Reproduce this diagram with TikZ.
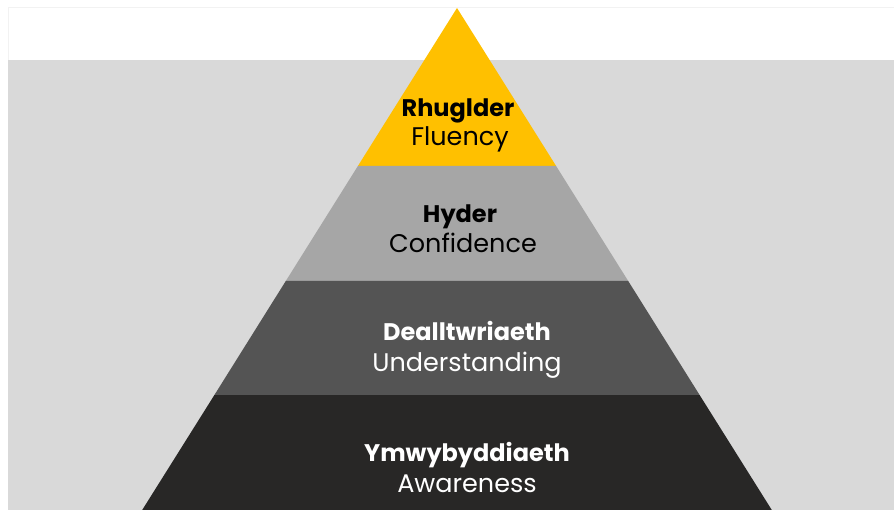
\documentclass[tikz,border=0pt]{standalone}
\usepackage{fontspec}
\setmainfont{Poppins}
\definecolor{bggray}{HTML}{D9D9D9}
\definecolor{lvyellow}{HTML}{FFC000}
\definecolor{lvlight}{HTML}{A6A6A6}
\definecolor{lvmid}{HTML}{545454}
\definecolor{lvdark}{HTML}{282726}
\definecolor{faintline}{HTML}{F2F2F2}
\tikzset{
  boldlbl/.style={anchor=base, font=\fontsize{24}{24}\selectfont\bfseries, inner sep=0pt},
  reglbl/.style={anchor=base, font=\fontsize{25.5}{25.5}\selectfont, inner sep=0pt},
}
\begin{document}
\begin{tikzpicture}[x=1pt,y=-1pt]
\useasboundingbox (0,0) rectangle (894,510);
\fill[white] (0,0) rectangle (894,510);
\draw[faintline, line width=0.6pt] (8,510) -- (8,7) -- (894,7);
\fill[bggray] (8,60) rectangle (894,510);
% pyramid layers
\fill[lvyellow] (457,8) -- (556.1,166) -- (357.9,166) -- cycle;
\fill[lvlight] (357.9,166) -- (556.1,166) -- (628.2,281) -- (285.8,281) -- cycle;
\fill[lvmid] (285.8,281) -- (628.2,281) -- (699.6,395) -- (214.4,395) -- cycle;
\fill[lvdark] (214.4,395) -- (699.6,395) -- (771.8,510) -- (142.2,510) -- cycle;
% labels
\node[boldlbl, text=black] (t1) at (458,117) {Rhuglder};
\node[reglbl, text=black] (s1) at (460,146) {Fluency};
\node[boldlbl, text=black] (t2) at (460,223) {Hyder};
\node[reglbl, text=black] (s2) at (463,253) {Confidence};
\node[boldlbl, text=white] (t3) at (467,341) {Dealltwriaeth};
\node[reglbl, text=white] (s3) at (467,372) {Understanding};
\node[boldlbl, text=white] (t4) at (467,461) {Ymwybyddiaeth};
\node[reglbl, text=white] (s4) at (467,492) {Awareness};
\end{tikzpicture}
\end{document}
